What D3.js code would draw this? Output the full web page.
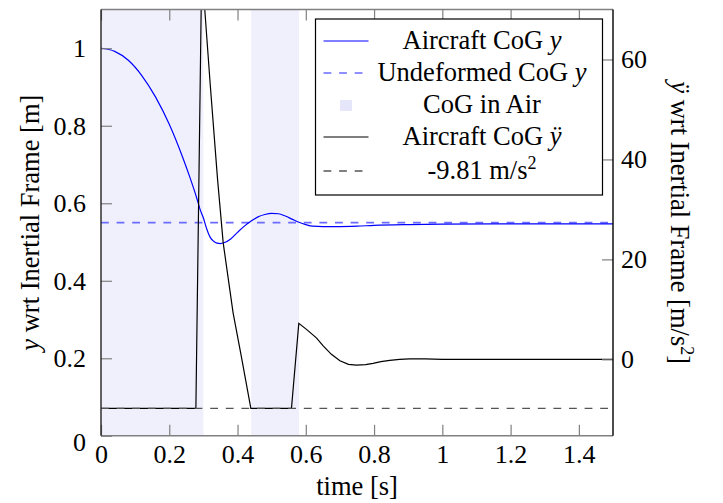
<!DOCTYPE html>
<html>
<head>
<meta charset="utf-8">
<script src="https://cdn.jsdelivr.net/npm/d3@7"></script>
<style>
  body { margin: 0; background: #fff; }
  svg text { font-family: "Liberation Serif", "Times New Roman", serif; }
</style>
</head>
<body>
<div id="chart"></div>
<script>
// CoG height y [m]
const posT = [0, 0.04, 0.08, 0.12, 0.16, 0.20, 0.24, 0.26, 0.28, 0.29, 0.30, 0.31, 0.32, 0.33, 0.34, 0.35, 0.36, 0.38, 0.40, 0.42, 0.44, 0.46, 0.48, 0.50, 0.52, 0.54, 0.56, 0.58, 0.60, 0.62, 0.65, 0.70, 0.75, 0.80, 0.90, 1.0, 1.2, 1.5];
const posY = [1.000, 0.992, 0.969, 0.929, 0.874, 0.804, 0.717, 0.668, 0.615, 0.585, 0.562, 0.533, 0.512, 0.502, 0.497, 0.496, 0.498, 0.508, 0.525, 0.541, 0.554, 0.565, 0.571, 0.574, 0.573, 0.567, 0.559, 0.551, 0.545, 0.541, 0.540, 0.540, 0.541, 0.543, 0.545, 0.546, 0.547, 0.547];

// CoG acceleration [m/s^2]
const accT = [0, 0.278, 0.295, 0.304, 0.32, 0.3415, 0.358, 0.37, 0.387, 0.41, 0.439, 0.558, 0.5795, 0.602, 0.631, 0.651, 0.675, 0.70, 0.725, 0.748, 0.775, 0.797, 0.82, 0.846, 0.875, 0.904, 0.95, 1.0, 1.2, 1.5];
const accV = [-9.81, -9.81, 78, 70, 55, 36, 23.3, 17.5, 9.3, 1.0, -9.81, -9.81, 7.2, 6.0, 4.3, 2.7, 1.0, -0.3, -1.0, -1.15, -1.05, -0.8, -0.45, -0.2, 0.0, 0.1, 0.1, 0.0, 0.0, 0.0];

const undeformedY = 0.55;
const gravity = -9.81;

// intervals where CoG is in the air
const airStart = [0, 0.44];
const airEnd = [0.3, 0.58];

const xTicks = [0, 0.2, 0.4, 0.6, 0.8, 1, 1.2, 1.4];
const yTicks = [0, 0.2, 0.4, 0.6, 0.8, 1];
const y2Ticks = [0, 20, 40, 60];

const W = 723, H = 503;
const margin = {top: 9.5, right: 110, bottom: 67.2, left: 101};
const width = W - margin.left - margin.right;
const height = H - margin.top - margin.bottom;

const svg = d3.select("#chart").append("svg")
    .attr("width", W)
    .attr("height", H);

const g = svg.append("g")
    .attr("transform", `translate(${margin.left},${margin.top})`);

const x = d3.scaleLinear().domain([0, 1.5]).range([0, width]);
const y = d3.scaleLinear().domain([0, 1.1]).range([height, 0]);
const y2 = d3.scaleLinear().domain([-15.3, 70]).range([height, 0]);

g.append("clipPath").attr("id", "clip")
    .append("rect").attr("width", width).attr("height", height);

const plot = g.append("g").attr("clip-path", "url(#clip)");

// shaded "in air" areas
plot.selectAll(".air")
    .data(airStart.map((s, i) => [s, airEnd[i]]))
    .enter().append("rect")
    .attr("class", "air")
    .attr("x", d => x(d[0]))
    .attr("width", d => x(d[1]) - x(d[0]))
    .attr("y", 0)
    .attr("height", height)
    .attr("fill", "#f0f0fc");

// undeformed CoG
plot.append("line")
    .attr("x1", 0).attr("x2", width)
    .attr("y1", y(undeformedY)).attr("y2", y(undeformedY))
    .attr("stroke", "#6b6bff")
    .attr("stroke-width", 1.6)
    .attr("stroke-dasharray", "7.8,7.8");

// CoG y
const posLine = d3.line()
    .x(d => x(d[0]))
    .y(d => y(d[1]))
    .curve(d3.curveMonotoneX);

plot.append("path")
    .datum(posT.map((t, i) => [t, posY[i]]))
    .attr("d", posLine)
    .attr("fill", "none")
    .attr("stroke", "#0000ff")
    .attr("stroke-width", 1.2);

// CoG acceleration
const accLine = d3.line()
    .x(d => x(d[0]))
    .y(d => y2(d[1]));

plot.append("path")
    .datum(accT.map((t, i) => [t, accV[i]]))
    .attr("d", accLine)
    .attr("fill", "none")
    .attr("stroke", "#000")
    .attr("stroke-width", 1.2);

// gravity line
plot.append("line")
    .attr("x1", 0).attr("x2", width)
    .attr("y1", y2(gravity)).attr("y2", y2(gravity))
    .attr("stroke", "#555")
    .attr("stroke-width", 1.4)
    .attr("stroke-dasharray", "7.8,7.8");

// axes (ticks point inwards)
const fmt = d => String(d);

g.append("g")
    .attr("transform", `translate(0,${height})`)
    .call(d3.axisBottom(x).tickValues(xTicks).tickFormat(fmt).tickSize(-11).tickPadding(9));

g.append("g")
    .call(d3.axisTop(x).tickValues(xTicks).tickFormat("").tickSize(-11));

const yAxis = g.append("g")
    .call(d3.axisLeft(y).tickValues(yTicks).tickFormat(fmt).tickSize(-11).tickPadding(15));

g.append("g")
    .attr("transform", `translate(${width},0)`)
    .call(d3.axisRight(y2).tickValues(y2Ticks).tickFormat(fmt).tickSize(-11).tickPadding(8));

g.selectAll(".domain").remove();
g.selectAll(".tick line").attr("stroke", "#808080").attr("stroke-width", 1.2);
g.selectAll(".tick text")
    .attr("font-size", 26)
    .attr("font-family", "Liberation Serif, serif")
    .attr("fill", "#000");
yAxis.selectAll(".tick text").filter(d => d === 0).attr("dy", "0.55em");

// frame
g.append("line").attr("x1", 0).attr("x2", width).attr("y1", 0).attr("y2", 0)
    .attr("stroke", "#808080").attr("stroke-width", 1.4);
g.append("line").attr("x1", 0).attr("x2", width).attr("y1", height).attr("y2", height)
    .attr("stroke", "#808080").attr("stroke-width", 1.4);
g.append("line").attr("x1", 0).attr("x2", 0).attr("y1", 0).attr("y2", height)
    .attr("stroke", "#222").attr("stroke-width", 1.4);
g.append("line").attr("x1", width).attr("x2", width).attr("y1", 0).attr("y2", height)
    .attr("stroke", "#000").attr("stroke-width", 1.4);

// axis titles
svg.append("text")
    .attr("x", margin.left + width / 2)
    .attr("y", 495)
    .attr("text-anchor", "middle")
    .attr("font-size", 26.5)
    .text("time [s]");

const yl = svg.append("text")
    .attr("transform", `translate(39,${margin.top + height / 2}) rotate(-90)`)
    .attr("text-anchor", "middle")
    .attr("font-size", 26.5);
yl.append("tspan").attr("font-style", "italic").text("y");
yl.append("tspan").text(" wrt Inertial Frame [m]");

const yr = svg.append("text")
    .attr("transform", `translate(671,${margin.top + height / 2}) rotate(90)`)
    .attr("text-anchor", "middle")
    .attr("font-size", 26.5);
yr.append("tspan").attr("font-style", "italic").text("ÿ");
yr.append("tspan").text(" wrt Inertial Frame [m/s");
yr.append("tspan").attr("font-size", 18).attr("dy", -10).text("2");
yr.append("tspan").attr("dy", 10).text("]");

// legend
const legend = svg.append("g");
legend.append("rect")
    .attr("x", 315.5).attr("y", 19)
    .attr("width", 287).attr("height", 176)
    .attr("fill", "#fff")
    .attr("stroke", "#000")
    .attr("stroke-width", 1.2);

const legendRows = [
    {kind: "line", color: "#0000ff", dash: null, cy: 41, parts: [["Aircraft CoG ", false], ["y", true]]},
    {kind: "line", color: "#6b6bff", dash: "7.8,7.8", cy: 73, parts: [["Undeformed CoG ", false], ["y", true]]},
    {kind: "square", color: "#e6e6fa", cy: 105, parts: [["CoG in Air", false]]},
    {kind: "line", color: "#000", dash: null, cy: 137, parts: [["Aircraft CoG ", false], ["ÿ", true]]},
    {kind: "line", color: "#555", dash: "7.8,7.8", cy: 171, parts: [["-9.81 m/s", false]], sup: "2"}
];

legendRows.forEach(r => {
    if (r.kind === "line") {
        legend.append("line")
            .attr("x1", 323.5).attr("x2", 368.5)
            .attr("y1", r.cy).attr("y2", r.cy)
            .attr("stroke", r.color)
            .attr("stroke-width", r.dash ? 1.4 : 1.2)
            .attr("stroke-dasharray", r.dash);
    } else {
        legend.append("rect")
            .attr("x", 340).attr("y", r.cy - 5)
            .attr("width", 12).attr("height", 11)
            .attr("fill", r.color);
    }
    const t = legend.append("text")
        .attr("x", 482).attr("y", r.cy + 8)
        .attr("text-anchor", "middle")
        .attr("font-size", 26.5);
    r.parts.forEach(p => t.append("tspan").attr("font-style", p[1] ? "italic" : null).text(p[0]));
    if (r.sup) t.append("tspan").attr("font-size", 18).attr("dy", -10).text(r.sup);
});
</script>
</body>
</html>
